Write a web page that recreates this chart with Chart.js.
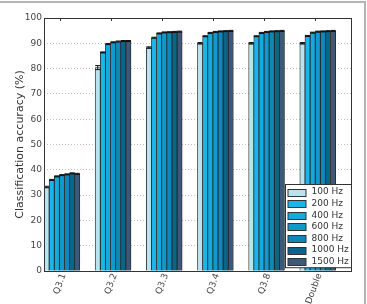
<!DOCTYPE html>
<html>
<head>
<meta charset="utf-8">
<script src="https://cdn.jsdelivr.net/npm/chart.js@4.4.0/dist/chart.umd.min.js"></script>
<style>
    html, body { margin: 0; padding: 0; background: #fff; }
    #wrap { position: relative; width: 367px; height: 304px; }
</style>
</head>
<body>
<div id="wrap"><canvas id="accuracy-chart" width="367" height="304"></canvas></div>
<script>
(function () {
    "use strict";

    // Data
    var categories = ["Q3.1", "Q3.2", "Q3.3", "Q3.4", "Q3.8", "Double"];
    var rates = ["100 Hz", "200 Hz", "400 Hz", "600 Hz", "800 Hz", "1000 Hz", "1500 Hz"];
    var acc100 = [33.2, 80.4, 88.3, 90.0, 90.0, 90.0];
    var acc200 = [36.0, 86.4, 92.2, 92.8, 92.8, 92.9];
    var acc400 = [37.4, 89.7, 93.9, 94.1, 94.1, 94.2];
    var acc600 = [37.9, 90.4, 94.3, 94.5, 94.5, 94.6];
    var acc800 = [38.2, 90.7, 94.4, 94.7, 94.7, 94.7];
    var acc1000 = [38.6, 90.9, 94.5, 94.8, 94.8, 94.8];
    var acc1500 = [38.4, 90.9, 94.6, 94.9, 94.9, 94.9];
    var err100 = [0.3, 0.8, 0.3, 0.3, 0.3, 0.3];
    var errOther = [0.2, 0.2, 0.2, 0.2, 0.2, 0.2];
    var yTicks = [0, 10, 20, 30, 40, 50, 60, 70, 80, 90, 100];

    var series = [acc100, acc200, acc400, acc600, acc800, acc1000, acc1500];
    var errors = [err100, errOther, errOther, errOther, errOther, errOther, errOther];
    var colors = ["#b9e3ef", "#19b6ea", "#13aae0", "#0f9acd", "#0c89b8", "#0a6688", "#3d5977"];

    var datasets = series.map(function (d, i) {
        return {
            label: rates[i],
            data: d,
            errors: errors[i],
            backgroundColor: colors[i],
            borderColor: "#222222",
            borderWidth: 0.8,
            borderSkipped: "bottom"
        };
    });
    // empty slots so the bars sit in the left part of every category
    for (var k = 0; k < 3; k++) {
        datasets.push({ label: "", data: categories.map(function () { return null; }), spacer: true });
    }


    // Error bars
    var errorBars = {
        id: "errorBars",
        afterDatasetsDraw: function (chart) {
            var ctx = chart.ctx, y = chart.scales.y;
            ctx.save();
            ctx.strokeStyle = "#111";
            ctx.lineWidth = 1;
            chart.data.datasets.forEach(function (ds, i) {
                if (ds.spacer) return;
                chart.getDatasetMeta(i).data.forEach(function (bar, j) {
                    var v = ds.data[j], e = ds.errors[j];
                    var top = y.getPixelForValue(v + e), bot = y.getPixelForValue(v - e);
                    var w = bar.width / 2;
                    ctx.beginPath();
                    ctx.moveTo(bar.x, top); ctx.lineTo(bar.x, bot);
                    ctx.moveTo(bar.x - w, top); ctx.lineTo(bar.x + w, top);
                    ctx.moveTo(bar.x - w, bot); ctx.lineTo(bar.x + w, bot);
                    ctx.stroke();
                });
            });
            ctx.restore();
        }
    };


    // Frame, plot box and legend
    var decorations = {
        id: "decorations",
        afterDraw: function (chart) {
            var ctx = chart.ctx, a = chart.chartArea;
            ctx.save();
            ctx.fillStyle = "#b4b4b4";
            ctx.fillRect(0, 1, chart.width - 1, 2);
            ctx.fillRect(chart.width - 3, 1, 2, chart.height);

            ctx.strokeStyle = "#333";
            ctx.lineWidth = 1;
            ctx.strokeRect(Math.round(a.left) + 0.5, Math.round(a.top) + 0.5,
                Math.round(a.right - a.left), Math.round(a.bottom - a.top));

            // little inward ticks on the top axis
            var x = chart.scales.x;
            categories.forEach(function (c, i) {
                var px = Math.round(x.getPixelForTick(i) - 10) + 0.5;
                ctx.beginPath();
                ctx.moveTo(px, a.top); ctx.lineTo(px, a.top + 3);
                ctx.stroke();
            });

            var bw = 66, rowH = 11.6, bh = rates.length * rowH + 2;
            var bx = Math.round(a.right - bw) + 0.5, by = Math.round(a.bottom - bh - 4) + 0.5;
            ctx.fillStyle = "#fff";
            ctx.fillRect(bx, by, bw, bh);
            ctx.strokeRect(bx, by, bw, bh);
            ctx.font = "9px 'DejaVu Sans'";
            ctx.textBaseline = "middle";
            rates.forEach(function (r, i) {
                var cy = by + 7.5 + i * rowH;
                ctx.fillStyle = colors[i];
                ctx.fillRect(bx + 2.5, Math.round(cy - 3.5), 18, 7);
                ctx.strokeStyle = "#333";
                ctx.strokeRect(bx + 2.5, Math.round(cy - 3.5) + 0.5, 18, 7);
                ctx.fillStyle = "#333";
                ctx.fillText(r, bx + 26, cy);
            });
            ctx.restore();
        }
    };


    // Accuracy Chart
    var ctx1 = document.getElementById("accuracy-chart").getContext("2d");
    var myChart1 = new Chart(ctx1, {
        type: "bar",
        data: { labels: categories, datasets: datasets },
        options: {
            responsive: false,
            animation: false,
            devicePixelRatio: 1,
            layout: { padding: { top: 18, right: 16, left: 0, bottom: 0 } },
            datasets: { bar: { categoryPercentage: 1.0, barPercentage: 1.0 } },
            plugins: { legend: { display: false }, tooltip: { enabled: false } },
            scales: {
                x: {
                    grid: { display: false, drawTicks: false },
                    border: { display: false },
                    ticks: {
                        color: "#444",
                        font: { family: "DejaVu Sans", size: 9 },
                        minRotation: 70,
                        maxRotation: 70,
                        labelOffset: -6,
                        padding: 1
                    },
                    afterFit: function (s) { s.height = 33; }
                },
                y: {
                    min: 0,
                    max: 100,
                    afterBuildTicks: function (s) {
                        s.ticks = yTicks.map(function (v) { return { value: v }; });
                    },
                    grid: {
                        color: "#b0b0b0",
                        drawTicks: false,
                        lineWidth: 0.8
                    },
                    border: { display: false, dash: [1, 2] },
                    ticks: {
                        color: "#444",
                        font: { family: "DejaVu Sans", size: 9 },
                        padding: 2
                    },
                    title: {
                        display: true,
                        text: "Classification accuracy (%)",
                        color: "#333",
                        font: { family: "DejaVu Sans", size: 11 },
                        padding: { top: 14, bottom: 0 }
                    },
                    afterFit: function (s) { s.width = 44; }
                }
            }
        },
        plugins: [errorBars, decorations]
    });
})();
</script>
</body>
</html>
